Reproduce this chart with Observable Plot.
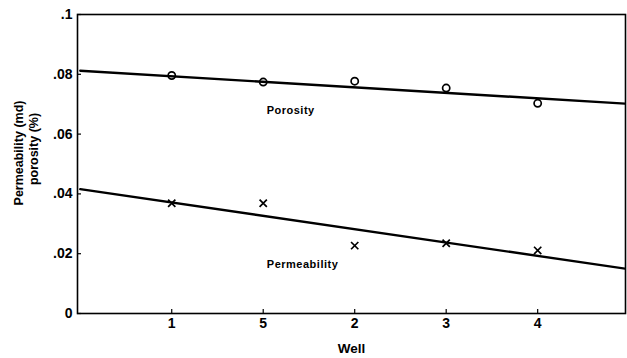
<!DOCTYPE html>
<html>
<head>
<meta charset="utf-8">
<script src="https://cdn.jsdelivr.net/npm/d3@7"></script>
<script src="https://cdn.jsdelivr.net/npm/@observablehq/plot@0.6"></script>
<style>
  body { margin: 0; background: #fff; }
  #chart svg { display: block; }
</style>
</head>
<body>
<div id="chart"></div>
<script>
// Wells in the order they appear along the x axis
const wells = ["1", "5", "2", "3", "4"];
const wellPos = [1, 2, 3, 4, 5];

// Measured values per well
const porosity = [0.0796, 0.0774, 0.0777, 0.0754, 0.0703];
const permeability = [0.0369, 0.0369, 0.0227, 0.0235, 0.0211];

// Fitted trend lines, endpoints across the full x range
const fitX = [0, 6];
const porosityFit = [0.0812, 0.0701];
const permeabilityFit = [0.0416, 0.0148];

// Y axis ticks
const yTicks = [0, 0.02, 0.04, 0.06, 0.08, 0.1];
const yTickLabels = ["0", ".02", ".04", ".06", ".08", ".1"];

// Series labels and where they sit
const seriesNames = ["Porosity", "Permeability"];
const seriesLabelX = [2.3, 2.43];
const seriesLabelY = [0.0679, 0.0164];

const porosityPts = wellPos.map((x, i) => ({x, y: porosity[i]}));
const permeabilityPts = wellPos.map((x, i) => ({x, y: permeability[i]}));
const porosityLine = fitX.map((x, i) => ({x, y: porosityFit[i]}));
const permeabilityLine = fitX.map((x, i) => ({x, y: permeabilityFit[i]}));
const seriesLabels = seriesNames.map((t, i) => ({t, x: seriesLabelX[i], y: seriesLabelY[i]}));

const font = "'Liberation Sans', Arial, Helvetica, sans-serif";

const chart = Plot.plot({
  width: 627,
  height: 358,
  marginLeft: 77,
  marginRight: 2,
  marginTop: 14,
  marginBottom: 45,
  style: {fontFamily: font, fontSize: "12px", fontWeight: "bold", color: "#000", background: "#fff"},
  x: {domain: [-0.03, 5.96]},
  y: {domain: [0, 0.1]},
  marks: [
    Plot.frame({stroke: "#000", strokeWidth: 1.6}),
    Plot.axisY({
      ticks: yTicks,
      tickFormat: d => yTickLabels[yTicks.indexOf(d)],
      tickSize: -4,
      tickPadding: 9,
      label: null,
      fontSize: 14,
      strokeWidth: 1.2
    }),
    Plot.axisX({
      ticks: wellPos,
      tickFormat: d => wells[wellPos.indexOf(d)],
      tickSize: -4,
      tickPadding: 9,
      label: null,
      fontSize: 14,
      strokeWidth: 1.2
    }),
    Plot.text(["Well"], {frameAnchor: "bottom", lineAnchor: "middle", dy: 35, fontSize: 13.5, fontWeight: "bold"}),
    Plot.text(["Permeability (md)"], {frameAnchor: "left", textAnchor: "middle", lineAnchor: "middle", rotate: -90, dx: -59, dy: -11, fontSize: 12.5, fontWeight: "bold"}),
    Plot.text(["porosity (%)"], {frameAnchor: "left", textAnchor: "middle", lineAnchor: "middle", rotate: -90, dx: -44, dy: -15, fontSize: 12.5, fontWeight: "bold"}),
    Plot.line(porosityLine, {x: "x", y: "y", stroke: "#000", strokeWidth: 2.4, clip: true}),
    Plot.line(permeabilityLine, {x: "x", y: "y", stroke: "#000", strokeWidth: 2.4, clip: true}),
    Plot.dot(porosityPts, {x: "x", y: "y", r: 3.6, stroke: "#000", strokeWidth: 1.7, fill: "none"}),
    Plot.dot(permeabilityPts, {x: "x", y: "y", r: 3.4, symbol: "times", stroke: "#000", strokeWidth: 1.7}),
    Plot.text(seriesLabels, {x: "x", y: "y", text: "t", fontSize: 11, fontWeight: "bold", fill: "#000"})
  ]
});

// Slightly wider letter spacing on the series labels
chart.querySelectorAll("text").forEach(t => {
  if (seriesNames.includes(t.textContent)) t.setAttribute("letter-spacing", "0.5");
});

document.getElementById("chart").append(chart);
</script>
</body>
</html>
